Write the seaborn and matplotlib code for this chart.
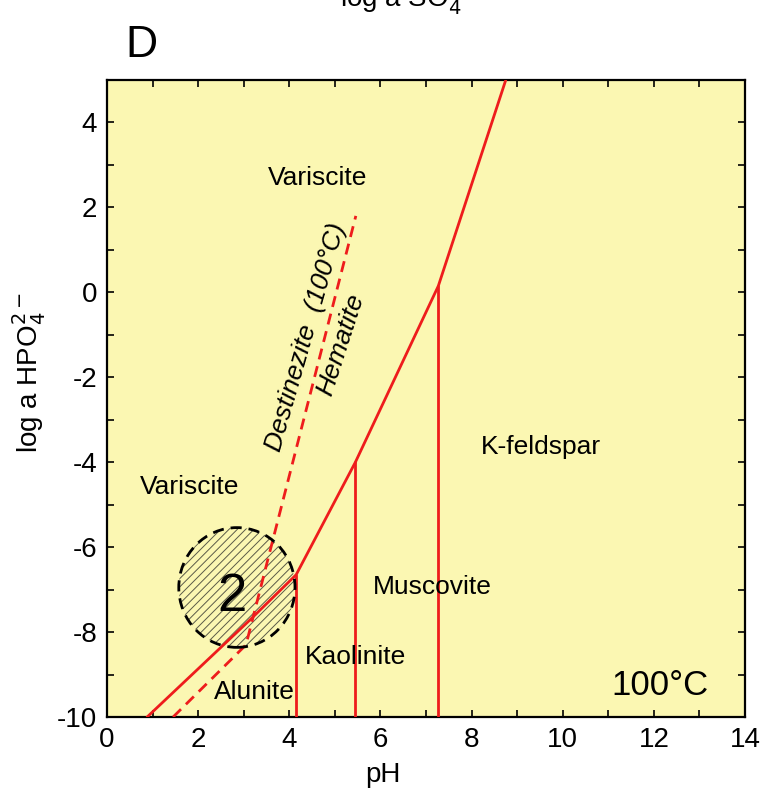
import numpy as np
import pandas as pd
import matplotlib
matplotlib.use('Agg')
import matplotlib.pyplot as plt
from matplotlib.patches import Ellipse
import seaborn as sns

# boundary data (pH, log a HPO4)
main_ph = [0.88, 3.15, 4.15, 5.45, 7.27, 8.75]
main_log = [-10.0, -7.7, -6.65, -4.0, 0.15, 5.0]

dest_ph = [1.45, 3.05, 5.46]
dest_log = [-10.0, -8.3, 1.8]

vert_ph = [4.15, 5.45, 7.27]
vert_top = [-6.65, -4.0, 0.15]

field_names = ['Variscite', 'Variscite', 'K-feldspar', 'Muscovite', 'Kaolinite', 'Alunite']
field_ph = [4.63, 1.82, 9.52, 7.13, 5.46, 3.23]
field_log = [2.69, -4.58, -3.64, -6.94, -8.59, -9.41]

zone_center = (2.85, -6.95)
zone_size = (2.55, 2.82)

x_ticks = [0, 2, 4, 6, 8, 10, 12, 14]
y_ticks = [-10, -8, -6, -4, -2, 0, 2, 4]

sns.set_theme(style='ticks')
plt.rcParams['font.family'] = ['Liberation Sans', 'DejaVu Sans']
plt.rcParams['hatch.linewidth'] = 0.7
plt.rcParams['axes.unicode_minus'] = False
plt.rcParams['text.color'] = 'black'
plt.rcParams['axes.labelcolor'] = 'black'
plt.rcParams['xtick.color'] = 'black'
plt.rcParams['ytick.color'] = 'black'

red = '#ee1c1c'
fig = plt.figure(figsize=(7.6, 8.09), dpi=100)
ax = fig.add_axes([0.1408, 0.1137, 0.8395, 0.7874])
ax.set_facecolor('#fbf7b2')

# hatched zone 2
ax.add_patch(Ellipse(zone_center, zone_size[0], zone_size[1], facecolor='none',
                     edgecolor='#5a5a48', hatch='////', lw=0, zorder=2))
ax.add_patch(Ellipse(zone_center, zone_size[0], zone_size[1], facecolor='none',
                     edgecolor='black', lw=2.0, linestyle=(0, (4, 2.5)), zorder=4))

# stability boundaries
main_df = pd.DataFrame({'pH': main_ph, 'loga': main_log})
sns.lineplot(data=main_df, x='pH', y='loga', sort=False, estimator=None,
             color=red, lw=2.0, ax=ax, zorder=3)

dest_df = pd.DataFrame({'pH': dest_ph, 'loga': dest_log})
sns.lineplot(data=dest_df, x='pH', y='loga', sort=False, estimator=None, color=red, lw=2.0,
             linestyle=(0, (4, 2.5)), ax=ax, zorder=3)

for px, top in zip(vert_ph, vert_top):
    vdf = pd.DataFrame({'pH': [px, px], 'loga': [-10.0, top]})
    sns.lineplot(data=vdf, x='pH', y='loga', sort=False, estimator=None,
                 color=red, lw=2.0, ax=ax, zorder=3)

for name, px, py in zip(field_names, field_ph, field_log):
    ax.text(px, py, name, fontsize=19, ha='center', va='center', zorder=5)

ax.text(2.74, -7.17, '2', fontsize=38, ha='center', va='center', zorder=5)
ax.text(12.13, -9.25, '100°C', fontsize=25, ha='center', va='center', zorder=5)
ax.text(4.37, -1.05, 'Destinezite  (100°C)', fontsize=19, style='italic',
        rotation=74, ha='center', va='center', rotation_mode='anchor', zorder=5)
ax.text(5.14, -1.24, 'Hematite', fontsize=19, style='italic',
        rotation=72, ha='center', va='center', rotation_mode='anchor', zorder=5)

ax.set_xlim(0, 14)
ax.set_ylim(-10, 5)
ax.set_xticks(x_ticks)
ax.set_yticks(y_ticks)
ax.set_xticks(np.arange(0, 15, 1), minor=True)
ax.set_yticks(np.arange(-10, 6, 1), minor=True)
ax.tick_params(which='both', direction='in', top=True, right=True,
               length=5, width=1.2, color='black', labelsize=20, pad=7)
for s in ax.spines.values():
    s.set_linewidth(1.6)
    s.set_color('black')

ax.set_xlabel('pH', fontsize=20)
ax.set_ylabel('log a HPO$_4^{2-}$', fontsize=20)
ax.xaxis.set_label_coords(0.433, -0.071)
ax.yaxis.set_label_coords(-0.092, 0.54)

fig.text(125 / 760, 1 - 57 / 809, 'D', fontsize=32, ha='left', va='baseline')
fig.text(0.54, 1 - 7 / 809, 'log a SO$_4^{2-}$', fontsize=20, ha='center', va='baseline')

fig.savefig('out.png', dpi=100)
